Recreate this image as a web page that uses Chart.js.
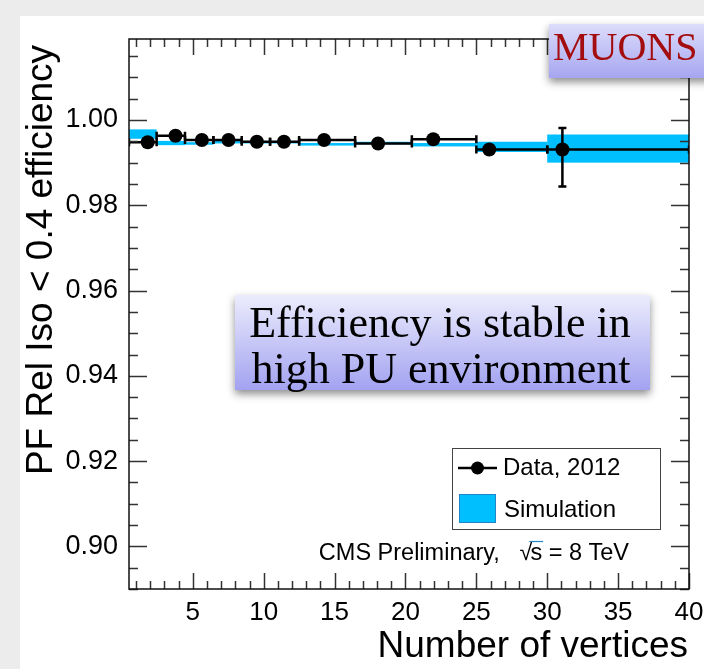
<!DOCTYPE html>
<html>
<head>
<meta charset="utf-8">
<script src="https://cdn.jsdelivr.net/npm/chart.js@4.4.1/dist/chart.umd.min.js"></script>
<style>body{margin:0;background:#fff}</style>
</head>
<body>
<canvas id="grafica" width="704" height="669"></canvas>
<script>
// valores
const binEdges = [0.5, 2.45, 4.45, 6.45, 8.45, 10.45, 12.5, 16.45, 20.45, 25, 30, 40];
const dataX = [1.82, 3.78, 5.64, 7.52, 9.52, 11.43, 14.26, 18.07, 21.96, 25.91, 31.07];
const dataY = [0.9948, 0.9963, 0.9953, 0.9953, 0.9949, 0.9949, 0.9953, 0.9945, 0.9955, 0.9931, 0.9931];
const dataErrUp = [0.0008, 0.0004, 0.0003, 0.0003, 0.0003, 0.0003, 0.0003, 0.0003, 0.0005, 0.0008, 0.0050];
const dataErrDown = [0.0008, 0.0004, 0.0003, 0.0003, 0.0003, 0.0003, 0.0003, 0.0003, 0.0005, 0.0008, 0.0087];
const simY = [0.9967, 0.9946, 0.9945, 0.9948, 0.9948, 0.9948, 0.9943, 0.9946, 0.9942, 0.9937, 0.9933];
const simErr = [0.0011, 0.0005, 0.0003, 0.0003, 0.0003, 0.0003, 0.0003, 0.0003, 0.0004, 0.0012, 0.0033];
const xTicks = [5, 10, 15, 20, 25, 30, 35, 40];
const yTicks = [0.90, 0.92, 0.94, 0.96, 0.98, 1.00];

const CIAN = 'rgb(0,191,255)';
const FUENTE = '"Liberation Sans", Arial, sans-serif';
const SERIF = '"Liberation Serif", "Times New Roman", serif';

function cajaDegradado(ctx, x, y, w, h, c1, c2) {
    ctx.save();
    const g = ctx.createLinearGradient(0, y, 0, y + h);
    g.addColorStop(0, c1);
    g.addColorStop(1, c2);
    ctx.shadowColor = 'rgba(0,0,0,0.45)';
    ctx.shadowBlur = 8;
    ctx.shadowOffsetY = 4;
    ctx.fillStyle = g;
    ctx.fillRect(x, y, w, h);
    ctx.restore();
}

// fondo de la diapositiva
const fondo = {
    id: 'fondo',
    beforeDraw(chart) {
        const ctx = chart.ctx;
        ctx.save();
        ctx.fillStyle = '#ececec';
        ctx.fillRect(0, 0, 704, 669);
        ctx.fillStyle = '#ffffff';
        ctx.fillRect(20, 16, 684, 653);
        ctx.restore();
    }
};

// bandas de simulacion y barras de error de los datos
const barras = {
    id: 'barras',
    beforeDatasetsDraw(chart) {
        const ctx = chart.ctx, xs = chart.scales.x, ys = chart.scales.y;
        const a = chart.chartArea;
        ctx.save();
        ctx.beginPath();
        ctx.rect(a.left, a.top, a.right - a.left, a.bottom - a.top);
        ctx.clip();
        ctx.fillStyle = CIAN;
        simY.forEach((v, i) => {
            const x0 = xs.getPixelForValue(binEdges[i]);
            const x1 = xs.getPixelForValue(binEdges[i + 1]);
            const y0 = ys.getPixelForValue(v + simErr[i]);
            const y1 = ys.getPixelForValue(v - simErr[i]);
            ctx.fillRect(x0, y0, x1 - x0, y1 - y0);
        });
        ctx.strokeStyle = '#000';
        ctx.lineWidth = 2.5;
        dataY.forEach((v, i) => {
            const x0 = xs.getPixelForValue(binEdges[i]);
            const x1 = xs.getPixelForValue(binEdges[i + 1]);
            const xc = xs.getPixelForValue(dataX[i]);
            const y = ys.getPixelForValue(v);
            const yu = ys.getPixelForValue(v + dataErrUp[i]);
            const yd = ys.getPixelForValue(v - dataErrDown[i]);
            ctx.beginPath();
            ctx.moveTo(x0, y); ctx.lineTo(x1, y);
            ctx.moveTo(x0, y - 4); ctx.lineTo(x0, y + 4);
            ctx.moveTo(x1, y - 4); ctx.lineTo(x1, y + 4);
            ctx.moveTo(xc, yu); ctx.lineTo(xc, yd);
            if (dataErrDown[i] > 0.002) {
                ctx.moveTo(xc - 4, yu); ctx.lineTo(xc + 4, yu);
                ctx.moveTo(xc - 4, yd); ctx.lineTo(xc + 4, yd);
            }
            ctx.stroke();
        });
        ctx.restore();
    }
};

// marco, marcas hacia dentro, titulos, leyenda y cuadros de texto
const adornos = {
    id: 'adornos',
    afterDraw(chart) {
        const ctx = chart.ctx, xs = chart.scales.x, ys = chart.scales.y;
        const a = chart.chartArea;
        ctx.save();
        ctx.strokeStyle = '#333';
        ctx.lineWidth = 1.5;
        ctx.beginPath();
        for (let v = 1; v <= 40; v++) {
            const x = Math.round(xs.getPixelForValue(v)) + 0.5;
            const l = v % 5 === 0 ? 16 : 8;
            ctx.moveTo(x, a.bottom); ctx.lineTo(x, a.bottom - l);
            ctx.moveTo(x, a.top); ctx.lineTo(x, a.top + l);
        }
        for (let k = 178; k <= 204; k++) {
            const v = k * 0.005;
            if (v < ys.min || v > ys.max) continue;
            const y = Math.round(ys.getPixelForValue(v)) + 0.5;
            const l = k % 4 === 0 ? 18 : 9;
            ctx.moveTo(a.left, y); ctx.lineTo(a.left + l, y);
            ctx.moveTo(a.right, y); ctx.lineTo(a.right - l, y);
        }
        ctx.stroke();
        ctx.strokeStyle = '#111';
        ctx.strokeRect(a.left, a.top, a.right - a.left, a.bottom - a.top);

        // titulos de ejes
        ctx.fillStyle = '#000';
        ctx.font = '37px ' + FUENTE;
        ctx.textAlign = 'right';
        ctx.textBaseline = 'alphabetic';
        ctx.fillText('Number of vertices', 688, 657);
        ctx.save();
        ctx.translate(52, 260);
        ctx.rotate(-Math.PI / 2);
        ctx.textAlign = 'center';
        ctx.fillText('PF Rel Iso < 0.4 efficiency', 0, 0);
        ctx.restore();

        // leyenda
        ctx.lineWidth = 1;
        ctx.strokeStyle = '#444';
        ctx.strokeRect(452.5, 448.5, 208, 81);
        ctx.strokeStyle = '#000';
        ctx.lineWidth = 2.5;
        ctx.beginPath();
        ctx.moveTo(458, 468); ctx.lineTo(497, 468);
        ctx.stroke();
        ctx.fillStyle = '#000';
        ctx.beginPath();
        ctx.arc(477.5, 468, 6.5, 0, Math.PI * 2);
        ctx.fill();
        ctx.fillStyle = CIAN;
        ctx.fillRect(459, 494, 37, 29);
        ctx.strokeStyle = '#1f86c8';
        ctx.lineWidth = 1;
        ctx.strokeRect(459.5, 494.5, 36, 28);
        ctx.fillStyle = '#000';
        ctx.font = '24px ' + FUENTE;
        ctx.textAlign = 'left';
        ctx.textBaseline = 'middle';
        ctx.fillText('Data, 2012', 503, 468);
        ctx.fillText('Simulation', 504, 510);

        // texto CMS con raiz de s
        ctx.font = '23.5px ' + FUENTE;
        ctx.textBaseline = 'alphabetic';
        const resto = ' = 8 TeV';
        const wR = ctx.measureText(resto).width;
        const wS = ctx.measureText('s').width;
        const wV = ctx.measureText('\u221A').width;
        const xFin = 629;
        const xS = xFin - wR - wS;
        const xV = xS - wV + 2;
        ctx.fillText(resto, xFin - wR, 560);
        ctx.fillText('s', xS, 560);
        ctx.fillText('\u221A', xV, 560);
        ctx.lineWidth = 1.2;
        ctx.beginPath();
        ctx.moveTo(xS - 1, 541.5); ctx.lineTo(xS + wS + 1, 541.5);
        ctx.stroke();
        ctx.textAlign = 'right';
        ctx.fillText('CMS Preliminary,   ', xV, 560);

        // cuadro de comentario
        cajaDegradado(ctx, 235, 295, 415, 95, '#ececfd', '#a2a2f1');
        ctx.fillStyle = '#000';
        ctx.font = '44px ' + SERIF;
        ctx.textAlign = 'center';
        ctx.fillText('Efficiency is stable in', 440, 337);
        ctx.fillText('high PU environment', 441, 383);

        // etiqueta MUONS
        cajaDegradado(ctx, 549, 24, 170, 54, '#dcdcfb', '#a6a6f1');
        ctx.fillStyle = '#a30d0d';
        ctx.font = '40px ' + SERIF;
        ctx.textAlign = 'left';
        ctx.fillText('MUONS', 553, 60);
        ctx.restore();
    }
};

const ctx = document.getElementById('grafica').getContext('2d');
const grafica = new Chart(ctx, {
    type: 'scatter',
    data: {
        datasets: [{
            label: 'Data, 2012',
            data: dataX.map((x, i) => ({ x: x, y: dataY[i] })),
            pointRadius: 7,
            pointHoverRadius: 7,
            backgroundColor: '#000',
            borderColor: '#000',
            borderWidth: 0
        }]
    },
    options: {
        responsive: false,
        animation: false,
        devicePixelRatio: 1,
        layout: { padding: { left: 0, right: 15, top: 39, bottom: 0 } },
        plugins: {
            legend: { display: false },
            tooltip: { enabled: false }
        },
        scales: {
            x: {
                type: 'linear',
                min: 0.5,
                max: 40,
                grid: { display: false, drawTicks: false },
                border: { display: false },
                afterBuildTicks: s => { s.ticks = xTicks.map(v => ({ value: v })); },
                afterFit: s => { s.height = 80; s.paddingLeft = 0; s.paddingRight = 0; },
                ticks: {
                    autoSkip: false,
                    maxRotation: 0,
                    padding: 8,
                    color: '#000',
                    font: { family: FUENTE, size: 26 }
                }
            },
            y: {
                type: 'linear',
                min: 0.89,
                max: 1.019,
                grid: { display: false, drawTicks: false },
                border: { display: false },
                afterBuildTicks: s => { s.ticks = yTicks.map(v => ({ value: v })); },
                afterFit: s => { s.width = 129; s.paddingTop = 0; s.paddingBottom = 0; },
                ticks: {
                    padding: 11,
                    color: '#000',
                    font: { family: FUENTE, size: 27 },
                    callback: v => v.toFixed(2)
                }
            }
        }
    },
    plugins: [fondo, barras, adornos]
});
</script>
</body>
</html>
